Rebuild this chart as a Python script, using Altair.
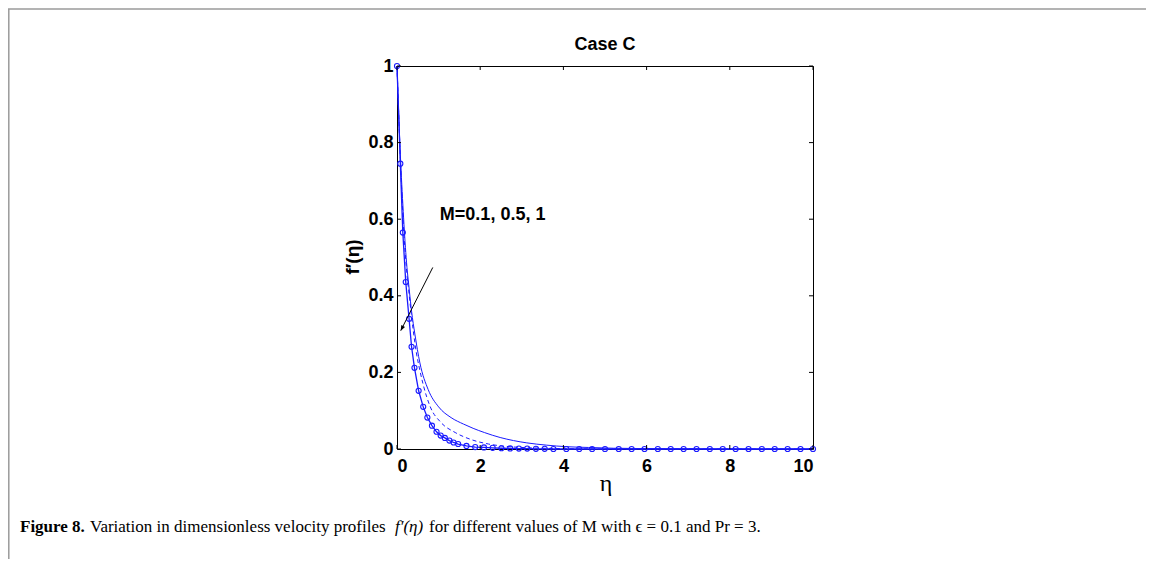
import altair as alt
import pandas as pd

# ---- data ----
# M = 1 (solid line with open circles)
eta_m1 = [0, 0.08, 0.14, 0.21, 0.29, 0.35, 0.42, 0.52, 0.63, 0.73, 0.84, 0.95, 1.05, 1.15,
          1.26, 1.36, 1.47, 1.67, 1.88, 2.09, 2.30, 2.51, 2.72, 2.93, 3.13, 3.34, 3.55, 3.76,
          4.07, 4.38, 4.69, 5.00, 5.33, 5.64, 5.95, 6.27, 6.58, 6.89, 7.20, 7.52, 7.83, 8.14,
          8.45, 8.77, 9.08, 9.39, 9.70, 10.0]
fp_m1 = [1.0, 0.745, 0.565, 0.436, 0.340, 0.267, 0.212, 0.152, 0.110, 0.082, 0.061, 0.045, 0.035, 0.029,
         0.022, 0.017, 0.013, 0.008, 0.005, 0.004, 0.003, 0.002, 0.0015, 0.001, 0.001, 0.0005, 0.0005, 0.0,
         0.0, 0.0, 0.0, 0.0, 0.0, 0.0, 0.0, 0.0, 0.0, 0.0, 0.0, 0.0, 0.0, 0.0,
         0.0, 0.0, 0.0, 0.0, 0.0, 0.0]

# M = 0.5 (dashed line)
eta_m05 = [0, 0.08, 0.15, 0.22, 0.29, 0.39, 0.46, 0.55, 0.63, 0.80, 1.05, 1.40, 1.80, 2.20,
           2.60, 3.00, 3.50, 4.00, 5.00, 6.00, 8.00, 10.0]
fp_m05 = [1.0, 0.76, 0.59, 0.48, 0.405, 0.31, 0.255, 0.205, 0.168, 0.11, 0.07, 0.043, 0.024, 0.013,
          0.007, 0.004, 0.002, 0.001, 0.0, 0.0, 0.0, 0.0]

# M = 0.1 (thin solid line)
eta_m01 = [0, 0.08, 0.15, 0.22, 0.30, 0.35, 0.43, 0.55, 0.75, 1.00, 1.30, 1.60, 1.83, 2.10,
           2.48, 2.80, 3.12, 3.60, 4.08, 4.60, 5.20, 6.00, 7.00, 8.00, 10.0]
fp_m01 = [1.0, 0.77, 0.62, 0.50, 0.41, 0.36, 0.30, 0.225, 0.155, 0.11, 0.082, 0.065, 0.054, 0.043,
          0.030, 0.022, 0.016, 0.010, 0.006, 0.004, 0.002, 0.001, 0.0005, 0.0, 0.0]

x_ticks = [0, 2, 4, 6, 8, 10]
y_ticks = [0, 0.2, 0.4, 0.6, 0.8, 1.0]

arrow_eta = [0.86, 0.09]
arrow_fp = [0.474, 0.309]
label_text = "M=0.1, 0.5, 1"
label_eta = [1.03]
label_fp = [0.61]

title_text = "Case C"
x_title = "η"
y_title = "f′(η)"
cap_bold = "Figure 8."
cap_a = "Variation in dimensionless velocity profiles"
cap_f = "f′(η)"
cap_b = "for different values of M with ϵ = 0.1 and Pr = 3."

# ---- styling ----
W, H = 416, 383
SANS = "Liberation Sans, Arial, Helvetica, sans-serif"
SERIF = "Liberation Serif, Times New Roman, serif"
BLUE = "#1a1aff"

xs = alt.Scale(domain=[0, 10], nice=False, zero=False)
ys = alt.Scale(domain=[0, 1], nice=False, zero=False)
xaxis = alt.Axis(values=x_ticks, format="d", title=None, labelPadding=8)
yaxis = alt.Axis(values=y_ticks, format="~g", title=None, labelPadding=4)
X = alt.X("eta:Q", scale=xs, axis=xaxis)
Y = alt.Y("fp:Q", scale=ys, axis=yaxis)

d1 = pd.DataFrame({"eta": eta_m1, "fp": fp_m1})
d05 = pd.DataFrame({"eta": eta_m05, "fp": fp_m05})
d01 = pd.DataFrame({"eta": eta_m01, "fp": fp_m01})
dxt = pd.DataFrame({"eta": x_ticks})
dyt = pd.DataFrame({"fp": y_ticks})
darrow = pd.DataFrame({"eta": arrow_eta, "fp": arrow_fp})
dtip = pd.DataFrame({"eta": arrow_eta[1:], "fp": arrow_fp[1:]})
dlabel = pd.DataFrame({"eta": label_eta, "fp": label_fp, "t": [label_text]})
one = pd.DataFrame({"k": [0]})

line01 = alt.Chart(d01).mark_line(color=BLUE, strokeWidth=1, interpolate="monotone").encode(x=X, y=Y)
line05 = alt.Chart(d05).mark_line(color=BLUE, strokeWidth=1, strokeDash=[4, 3], interpolate="monotone").encode(x=X, y=Y)
line1 = alt.Chart(d1).mark_line(color=BLUE, strokeWidth=1.3).encode(x=X, y=Y)
pts1 = alt.Chart(d1).mark_point(shape="circle", size=26, filled=False, color=BLUE, strokeWidth=1.1,
                                opacity=1).encode(x=X, y=Y)

# inward ticks on the four sides
tb = alt.Chart(dxt).mark_rule(color="black", strokeWidth=1).encode(x=X, y=alt.value(H), y2=alt.value(H - 4))
tt = alt.Chart(dxt).mark_rule(color="black", strokeWidth=1).encode(x=X, y=alt.value(0), y2=alt.value(4))
tl = alt.Chart(dyt).mark_rule(color="black", strokeWidth=1).encode(y=Y, x=alt.value(0), x2=alt.value(4))
tr = alt.Chart(dyt).mark_rule(color="black", strokeWidth=1).encode(y=Y, x=alt.value(W), x2=alt.value(W - 4))

arrow = alt.Chart(darrow).mark_line(color="black", strokeWidth=1).encode(x=X, y=Y)
tip = alt.Chart(dtip).mark_point(shape="M0,0 L-0.4,-1 L0.4,-1 Z", size=110, filled=True, color="black",
                                  opacity=1, angle=27).encode(x=X, y=Y)
label = alt.Chart(dlabel).mark_text(font=SANS, fontWeight="bold", fontSize=18, align="left",
                                     baseline="middle", color="black").encode(x=X, y=Y, text="t:N")

def txt(s, x, y, **kw):
    return alt.Chart(one).mark_text(text=s, color="black", **kw).encode(x=alt.value(x), y=alt.value(y))

title = txt(title_text, W / 2, -21, font=SANS, fontWeight="bold", fontSize=18, align="center", baseline="middle")
xt = txt(x_title, 209, 418, font=SERIF, fontSize=24, align="center", baseline="middle")
yt = txt(y_title, -44, 191, font=SANS, fontWeight="bold", fontSize=19, align="center", baseline="middle", angle=270)

CY = 461
CF = 17
cap1 = txt(cap_bold, -377, CY, font=SERIF, fontWeight="bold", fontSize=CF, align="left", baseline="middle")
cap2 = txt(cap_a, -307, CY, font=SERIF, fontSize=CF, align="left", baseline="middle")
cap3 = txt(cap_f, -2, CY, font=SERIF, fontStyle="italic", fontSize=CF, align="left", baseline="middle")
cap4 = txt(cap_b, 32, CY, font=SERIF, fontSize=CF, align="left", baseline="middle")

# page frame (grey lines at top and left)
ftop = alt.Chart(one).mark_rule(color="#9a9a9a", strokeWidth=1.5).encode(
    x=alt.value(-389), x2=alt.value(749), y=alt.value(-57))
fleft = alt.Chart(one).mark_rule(color="#9a9a9a", strokeWidth=1.5).encode(
    x=alt.value(-388.2), y=alt.value(-57), y2=alt.value(493))

chart = alt.layer(
    line01, line05, line1, pts1, tb, tt, tl, tr, arrow, tip, label,
    title, xt, yt, cap1, cap2, cap3, cap4, ftop, fleft
).properties(
    width=W, height=H,
    padding={"left": 389, "top": 58, "right": 333, "bottom": 110},
    autosize=alt.AutoSizeParams(type="none"),
).configure(
    background="white"
).configure_view(
    stroke="black", strokeWidth=1
).configure_axis(
    grid=False, domain=False, ticks=False, tickSize=0,
    labelFont=SANS, labelFontWeight="bold", labelFontSize=18, labelColor="black"
)

chart.save("out.html", embed_options={"renderer": "svg", "actions": False})
